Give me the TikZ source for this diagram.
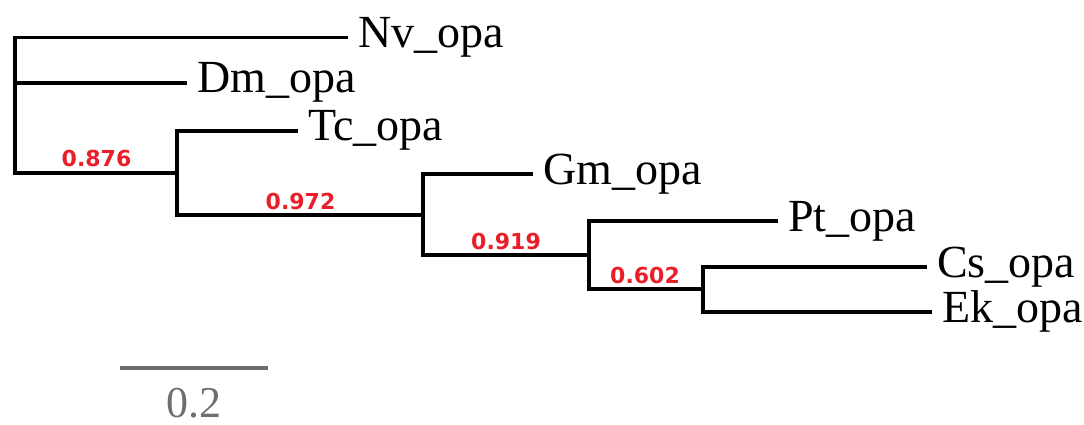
\documentclass[tikz,border=0pt]{standalone}
\usepackage{fontspec}
\setmainfont{Liberation Serif}
\newfontfamily\supfont{DejaVu Sans}
\definecolor{suppred}{RGB}{234,30,40}
\definecolor{scalegray}{RGB}{110,110,110}
\begin{document}
\begin{tikzpicture}[x=1pt,y=-1pt,
  branch/.style={line width=3.3pt, black, line cap=butt, line join=miter},
  leaf/.style={anchor=west, inner xsep=10pt, inner ysep=0pt, text height=30pt, text depth=10pt,
    font=\fontsize{46}{50}\selectfont},
  supp/.style={anchor=base, inner sep=0pt, text=suppred, font=\supfont\bfseries\fontsize{22}{24}\selectfont},
  scalebar/.style={line width=4pt, scalegray},
  scalelbl/.style={anchor=base, inner sep=0pt, text=scalegray, font=\fontsize{44}{48}\selectfont}]
\useasboundingbox (0,0) rectangle (1084,425);
% leaves
\node[leaf] (nv) at (348,37.5) {Nv\_opa};
\node[leaf] (dm) at (187,83) {Dm\_opa};
\node[leaf] (tc) at (298,131) {Tc\_opa};
\node[leaf] (gm) at (533,174) {Gm\_opa};
\node[leaf] (pt) at (778,221) {Pt\_opa};
\node[leaf] (cs) at (927,267) {Cs\_opa};
\node[leaf] (ek) at (932,312) {Ek\_opa};
% internal nodes
\coordinate (r) at (15,105);
\coordinate (i1) at (177,173);
\coordinate (i2) at (423,215);
\coordinate (i3) at (589,255);
\coordinate (i4) at (703,289);
% branches
\draw[branch] (r) |- (nv.west);
\draw[branch] (r) |- (dm.west);
\draw[branch] (r) |- (i1);
\draw[branch] (i1) |- (tc.west);
\draw[branch] (i1) |- (i2);
\draw[branch] (i2) |- (gm.west);
\draw[branch] (i2) |- (i3);
\draw[branch] (i3) |- (pt.west);
\draw[branch] (i3) |- (i4);
\draw[branch] (i4) |- (cs.west);
\draw[branch] (i4) |- (ek.west);
% support values
\node[supp] (s1) at (96.5,166) {0.876};
\node[supp] (s2) at (300.5,209) {0.972};
\node[supp] (s3) at (506,249) {0.919};
\node[supp] (s4) at (645,283) {0.602};
% scale bar
\coordinate (sb1) at (120,368);
\coordinate (sb2) at (268,368);
\draw[scalebar] (sb1) -- (sb2);
\node[scalelbl] (sbl) at (194,417) {0.2};
\end{tikzpicture}
\end{document}
